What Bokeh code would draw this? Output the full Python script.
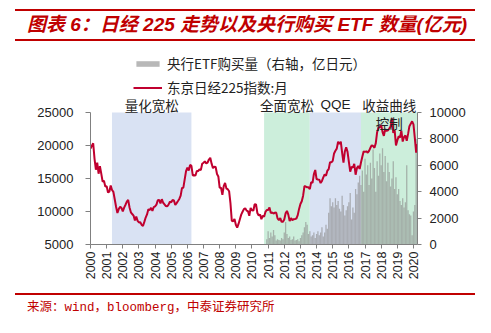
from math import pi
from bokeh.plotting import figure
from bokeh.models import (Range1d, LinearAxis, Label, BoxAnnotation, Legend,
                          LegendItem, FixedTicker, Div)
from bokeh.layouts import column
from bokeh.embed import file_html
from bokeh.resources import INLINE

# ---------------- data ----------------
# Nikkei 225 monthly close, Jan 2000 .. Apr 2020
nikkei = [
    19540, 19960, 20337, 17974, 16332, 17412, 15727, 16861, 15747, 14540, 14649, 13786,
    13844, 12884, 13000, 13934, 13262, 12969, 11861, 10714, 9775, 10367, 10697, 10543,
    9998, 10588, 11025, 11493, 11764, 10622, 9878, 9620, 9383, 8641, 9216, 8579,
    8340, 8363, 7973, 7832, 8425, 9083, 9563, 10344, 10219, 10560, 10101, 10677,
    10784, 11042, 11715, 11762, 11236, 11859, 11326, 11082, 10824, 10772, 11031, 11489,
    11388, 11741, 11669, 11009, 11277, 11584, 11900, 12414, 13574, 13607, 14872, 16111,
    16650, 16205, 17060, 16906, 15467, 15505, 15457, 16141, 16128, 16399, 16274, 17226,
    17383, 17604, 17288, 17400, 17876, 18138, 17249, 16569, 16786, 16738, 15681, 15308,
    13592, 13604, 12526, 13850, 14339, 13481, 13377, 13073, 11260, 8577, 8512, 8860,
    7994, 7569, 8110, 8828, 9523, 9958, 10357, 10493, 10133, 10035, 9346, 10546,
    10198, 10126, 11090, 11057, 9769, 9383, 9537, 8824, 9369, 9202, 9937, 10229,
    10238, 10624, 9755, 9850, 9694, 9816, 9833, 8955, 8700, 8988, 8435, 8455,
    8803, 9723, 10084, 9521, 8543, 9007, 8695, 8840, 8870, 8928, 9446, 10395,
    11139, 11559, 12398, 13861, 13775, 13677, 13668, 13389, 14456, 14328, 15662, 16291,
    14915, 14841, 14828, 14304, 14632, 15162, 15621, 15425, 16174, 16414, 17460, 17451,
    17674, 18798, 19207, 19520, 20563, 20236, 20585, 18890, 17388, 19083, 19747, 19034,
    17518, 16027, 16759, 16666, 17235, 15576, 16569, 16887, 16450, 17425, 18308, 19114,
    19041, 19119, 18909, 19197, 19651, 20033, 19925, 19646, 20356, 22012, 22725, 22765,
    23098, 22068, 21454, 22468, 22202, 22305, 22554, 22865, 24120, 21920, 22351, 20015,
    20773, 21385, 21206, 22259, 20601, 21276, 21522, 20704, 21756, 22927, 23294, 23657,
    23205, 21143, 18917, 20194,
]
nikkei_start = 2000.0

# BOJ ETF purchases (100 million yen), Dec 2010 .. Apr 2020
etf = [
    400,
    1000, 500, 900, 600, 1100, 700, 300, 400, 350, 300, 500, 400,
    900, 1700, 800, 500, 600, 350, 400, 600, 300, 350, 400, 250,
    500, 700, 900, 1300, 1700, 1500, 800, 1000, 600, 700, 900, 500,
    800, 1000, 700, 900, 1300, 600, 900, 1500, 1200, 2400, 3500, 2900,
    3200, 2800, 3500, 3000, 3300, 2700, 2500, 3700, 3000, 2200, 2600, 2900,
    3200, 3900, 1900, 2800, 2400, 4200, 3800, 4700, 5200, 4500, 5600, 4000,
    6500, 5300, 6000, 4500, 6200, 5000, 7200, 5800, 4000, 6300, 5200, 6900,
    6000, 7300, 5500, 6700, 4800, 6200, 5500, 4400, 5000, 6300, 4200, 5100,
    3800, 4200, 3300, 3000, 3500, 2800, 3200, 6000, 2600, 2300, 2200, 700,
    2500, 3000, 8000, 6500,
]
etf_start = 2010 + 11 / 12

year_ticks = list(range(2000, 2021))
left_ticks = [5000, 10000, 15000, 20000, 25000]
right_ticks = [0, 2000, 4000, 6000, 8000, 10000]

region_names = ["量化宽松", "全面宽松", "QQE", "收益曲线"]
region_start = [2001.33, 2010.75, 2013.58, 2016.75]
region_end = [2006.25, 2013.58, 2016.75, 2020.25]
region_colors = ["#D9E2F3", "#CCEEDB", "#D9E2F3", "#CCEEDB"]

title_text = "图表 6：日经 225 走势以及央行购买 ETF 数量(亿元)"
source_text = "来源：wind，bloomberg，中泰证券研究所"
legend_labels = ["央行ETF购买量（右轴，亿日元）", "东京日经225指数:月"]

# ---------------- styles / layout ----------------
CJK = "Noto Sans CJK SC"
RED = "#C00000"
W = 491
LEFT, RIGHT = 90, 74
TOP_BORDER, BOTTOM_BORDER = 4, 46
FIG_H = 244
PLOT_H = 132          # pixel height of the axis span (5000..25000 / 0..10000)
FRAME_H = FIG_H - TOP_BORDER - BOTTOM_BORDER
head = (FRAME_H - PLOT_H) / PLOT_H   # extra headroom above axes for legend/labels

L0, L1 = 5000, 25000
R0, R1 = 0, 10000
X0, X1 = 2000, 2020.25

n_x = [nikkei_start + i / 12 for i in range(len(nikkei))]
e_x = [etf_start + i / 12 for i in range(len(etf))]

p = figure(width=W, height=FIG_H, output_backend="svg", toolbar_location=None,
           x_range=Range1d(X0, X1),
           y_range=Range1d(L0, L1 + (L1 - L0) * head),
           min_border_left=LEFT, min_border_right=RIGHT, min_border_top=TOP_BORDER,
           min_border_bottom=BOTTOM_BORDER)
p.extra_y_ranges = {"etf": Range1d(R0, R1 + (R1 - R0) * head)}
p.outline_line_color = None
p.grid.visible = False
p.background_fill_color = "white"
p.border_fill_color = "white"

for s, e, c in zip(region_start, region_end, region_colors):
    p.add_layout(BoxAnnotation(left=s, right=e, bottom=L0, top=L1, fill_color=c,
                               fill_alpha=1.0, line_color=None, level="underlay"))

r_bar = p.vbar(x=e_x, top=etf, width=0.95 / 12, bottom=0, y_range_name="etf",
               fill_color="#8C8C8C", fill_alpha=0.62, line_color=None)
r_line = p.line(n_x, nikkei, line_color="#C0002F", line_width=2)

ax_col = "#808080"
lab_col = "#222222"
xa = p.xaxis[0]
xa.ticker = FixedTicker(ticks=year_ticks)
xa.major_label_orientation = pi / 2
xa.major_label_text_font = "Liberation Sans"
xa.major_label_text_font_size = "12.5px"
xa.major_label_text_color = lab_col
xa.major_label_standoff = 3
xa.minor_tick_line_color = None
xa.major_tick_in = 0
xa.major_tick_out = 4
xa.axis_line_color = ax_col
xa.major_tick_line_color = ax_col

ya = p.yaxis[0]
ya.ticker = FixedTicker(ticks=left_ticks)
ya.bounds = (L0, L1)
ya.major_label_text_font = "Liberation Sans"
ya.major_label_text_font_size = "13px"
ya.major_label_text_color = lab_col
ya.major_label_standoff = 12
ya.minor_tick_line_color = None
ya.major_tick_in = 0
ya.major_tick_out = 5
ya.axis_line_color = ax_col
ya.major_tick_line_color = ax_col

ra = LinearAxis(y_range_name="etf", ticker=FixedTicker(ticks=right_ticks),
                bounds=(R0, R1))
ra.major_label_text_font = "Liberation Sans"
ra.major_label_text_font_size = "13px"
ra.major_label_text_color = lab_col
ra.major_label_standoff = 8
ra.minor_tick_line_color = None
ra.major_tick_in = 0
ra.major_tick_out = 4
ra.axis_line_color = ax_col
ra.major_tick_line_color = ax_col
p.add_layout(ra, "right")

# legend (in the headroom above the axes)
legend = Legend(items=[LegendItem(label=legend_labels[0], renderers=[r_bar]),
                       LegendItem(label=legend_labels[1], renderers=[r_line])],
                location=(43, 147), orientation="vertical",
                glyph_width=29, glyph_height=7, label_height=14, spacing=4,
                label_standoff=5, padding=0, margin=0,
                border_line_color=None, background_fill_alpha=0,
                label_text_font=CJK, label_text_font_size="13.5px",
                label_text_color="#222222")
p.add_layout(legend)

# regime labels
centers = [(s + e) / 2 for s, e in zip(region_start, region_end)]
for name, cx in zip(region_names, centers):
    p.add_layout(Label(x=cx, y=PLOT_H + 8, x_units="data", y_units="screen",
                       text=name, text_align="center", text_baseline="middle",
                       text_font=CJK if name != "QQE" else "Liberation Sans",
                       text_font_size="13.5px", text_color="#222222"))
p.add_layout(Label(x=centers[3], y=PLOT_H - 10, x_units="data", y_units="screen",
                   text="控制", text_align="center", text_baseline="middle",
                   text_font=CJK, text_font_size="13.5px", text_color="#222222"))

title_div = Div(
    text=('<div style="margin:9px 0 0 15px;width:460px;height:32px;box-sizing:border-box;'
          'border-top:2px solid %s;border-bottom:2px solid %s;line-height:28px;'
          'padding-left:12px;color:%s;font-style:italic;font-weight:bold;font-size:19px;'
          'font-family:\'Liberation Sans\',\'Noto Sans CJK SC\';white-space:nowrap;">%s</div>')
    % (RED, RED, RED, title_text),
    width=W, height=46, margin=0)

source_div = Div(
    text=('<div style="margin:3px 0 0 15px;width:460px;height:28px;box-sizing:border-box;'
          'border-top:2px solid %s;line-height:26px;padding-left:12px;color:%s;'
          'font-size:12.5px;font-family:\'Liberation Mono\',\'Noto Sans CJK SC\';'
          'white-space:nowrap;">%s</div>') % (RED, RED, source_text),
    width=W, height=43, margin=0)

layout = column(title_div, p, source_div, spacing=0)
open("out.html", "w").write(file_html(layout, INLINE))
